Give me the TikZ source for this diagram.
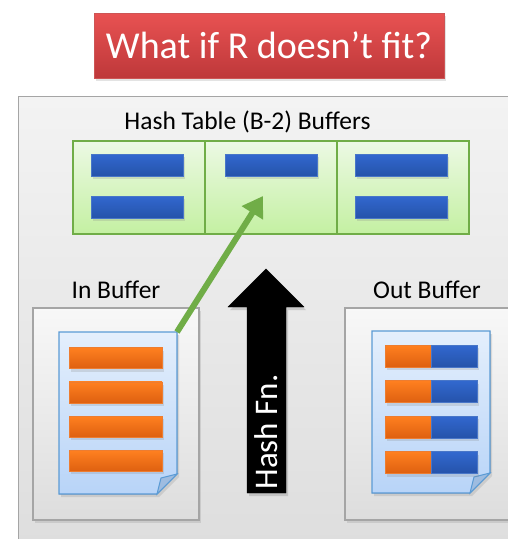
\documentclass[tikz,border=0pt]{standalone}
\usepackage{fontspec}
\setmainfont{Carlito}
\usepackage{xcolor}
\definecolor{titletop}{RGB}{232,82,82}
\definecolor{titlebot}{RGB}{190,56,58}
\definecolor{titleedge}{RGB}{205,85,85}
\definecolor{paneltop}{RGB}{243,243,243}
\definecolor{panelbot}{RGB}{221,221,221}
\definecolor{paneledge}{RGB}{165,165,165}
\definecolor{celltop}{RGB}{236,249,228}
\definecolor{cellbot}{RGB}{196,240,162}
\definecolor{celledge}{RGB}{112,173,71}
\definecolor{bluetop}{RGB}{50,104,207}
\definecolor{bluebot}{RGB}{37,83,170}
\definecolor{blueedge}{RGB}{72,118,200}
\definecolor{orangetop}{RGB}{255,128,32}
\definecolor{orangebot}{RGB}{222,96,16}
\definecolor{orangeedge}{RGB}{237,125,49}
\definecolor{doctop}{RGB}{228,239,252}
\definecolor{docbot}{RGB}{184,212,248}
\definecolor{docedge}{RGB}{91,155,213}
\definecolor{foldblue}{RGB}{158,188,224}
\definecolor{arrowgreen}{RGB}{112,173,71}
\usetikzlibrary{positioning,arrows.meta,shadows,calc}

\begin{document}
\begin{tikzpicture}[
      x=1pt,y=-1pt,
      lbl/.style={font=\fontsize{25.5}{29}\selectfont,anchor=base},
      shad/.style={drop shadow={opacity=0.22,shadow xshift=2pt,shadow yshift=-3pt}},
      titlebox/.style={draw=titleedge,line width=0.8pt,top color=titletop,
        bottom color=titlebot,text=white,minimum width=350,minimum height=65,
        font=\fontsize{38}{41}\selectfont,shad},
      panel/.style={draw=paneledge,line width=1.2pt,top color=paneltop,
        bottom color=panelbot,inner sep=0,anchor=north west},
      cellbox/.style={draw=celledge,line width=1.5pt,top color=celltop,
        bottom color=cellbot,minimum width=132,minimum height=93,
        inner sep=0,outer sep=0},
      bluebar/.style={draw=blueedge,line width=0.6pt,top color=bluetop,
        bottom color=bluebot,minimum width=92,minimum height=22,inner sep=0,shad},
      orangebar/.style={draw=orangeedge,line width=0.6pt,top color=orangetop,
        bottom color=orangebot,minimum width=93,minimum height=21,inner sep=0,shad},
      halfbar/.style={line width=0.6pt,minimum width=46,minimum height=22,
        inner sep=0,outer sep=0},
      bufbox/.style={draw=paneledge,line width=1.5pt,top color=paneltop!60!white,
        bottom color=panelbot,minimum width=166,minimum height=212,inner sep=0,shad},
      docspot/.style={minimum width=118,minimum height=162,inner sep=0,outer sep=0},
      docpage/.style={draw=docedge,line width=1.3pt,top color=doctop,
        bottom color=docbot,shad},
      docfold/.style={draw=docedge,line width=1pt,fill=foldblue},
      hashshape/.style={fill=black,drop shadow={opacity=0.3,shadow xshift=2pt,shadow yshift=-3pt}}
    ]
    \useasboundingbox (0,0) rectangle (508,539);
    \clip (0,0) rectangle (508,539);

    % background panel and title
    \node[panel,minimum width=520,minimum height=470] (panel) at (18,96) {};
    \node[titlebox] (title) at (269,45.5) {What if R doesn’t fit?};

    % hash table buffers
    \node[lbl] (htlbl) at (247.5,129) {Hash Table (B-2) Buffers};
    \node[cellbox] (cell1) at (139,187.5) {};
    \node[cellbox,right=0pt of cell1] (cell2) {};
    \node[cellbox,right=0pt of cell2] (cell3) {};
    \foreach \dy [count=\i] in {-22.5,19.5} {
      \node[bluebar] (hl\i) at ($(cell1)+(-2,\dy)$) {};
      \node[bluebar] (hr\i) at ($(cell3)+(-2,\dy)$) {};
    }
    \node[bluebar] (hm1) at ($(cell2)+(0,-22.5)$) {};

    % in buffer
    \node[lbl] (inlbl) at (116,298) {In Buffer};
    \node[bufbox] (inbox) at (116,414) {};
    \node[docspot] (indoc) at (118,413) {};
    \filldraw[docpage] (indoc.north west) -- (indoc.north east)
      -- ($(indoc.south east)+(0,-20)$) -- ($(indoc.south east)+(-20,0)$)
      -- (indoc.south west) -- cycle;
    \filldraw[docfold] ($(indoc.south east)+(0,-20)$)
      -- ($(indoc.south east)+(-16,-16)$) -- ($(indoc.south east)+(-20,0)$) -- cycle;
    \foreach \i in {0,...,3} {
      \node[orangebar] (inrec\i) at ($(indoc.north)+(-2.5,{26+34.3*\i})$) {};
    }

    % out buffer
    \node[lbl] (outlbl) at (427,298) {Out Buffer};
    \node[bufbox] (outbox) at (428,414) {};
    \node[docspot] (outdoc) at (431,412) {};
    \filldraw[docpage] (outdoc.north west) -- (outdoc.north east)
      -- ($(outdoc.south east)+(0,-20)$) -- ($(outdoc.south east)+(-20,0)$)
      -- (outdoc.south west) -- cycle;
    \filldraw[docfold] ($(outdoc.south east)+(0,-20)$)
      -- ($(outdoc.south east)+(-16,-16)$) -- ($(outdoc.south east)+(-20,0)$) -- cycle;
    \foreach \i in {0,...,3} {
      \node[halfbar,draw=orangeedge,top color=orangetop,bottom color=orangebot,
        shad] (outa\i) at ($(outdoc.north)+(-23,{25+35.5*\i})$) {};
      \node[halfbar,draw=blueedge,top color=bluetop,bottom color=bluebot,
        shad,right=0pt of outa\i] (outb\i) {};
    }

    % hash function arrow
    \filldraw[hashshape] (247,493) -- (247,307) -- (228,307) -- (266,269)
      -- (304,307) -- (286,307) -- (286,493) -- cycle;
    \node[rotate=90,text=white,font=\fontsize{33}{35}\selectfont]
      (hashlbl) at (266,432) {Hash Fn.};

    % record goes into a bucket
    \coordinate (hit) at (263,196);
    \draw[arrowgreen,line width=6pt,-{Triangle[width=24pt,length=20pt]}]
      (indoc.north east) -- (hit);
  \end{tikzpicture}
\end{document}
